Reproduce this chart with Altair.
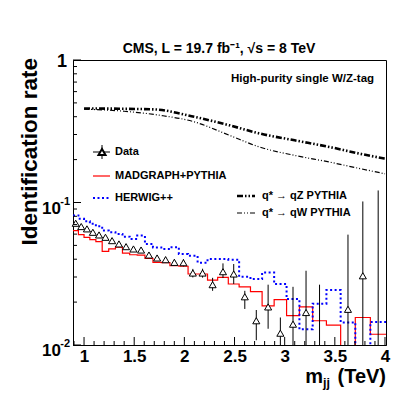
import altair as alt
import pandas as pd

# ---------------- data ----------------
bin_edges = [0.890, 0.944, 1.000, 1.058, 1.118, 1.181, 1.246, 1.313, 1.383, 1.455,
             1.530, 1.607, 1.687, 1.770, 1.856, 1.945, 2.037, 2.132, 2.231, 2.332,
             2.438, 2.546, 2.659, 2.775, 2.895, 3.019, 3.147, 3.279, 3.416, 3.558,
             3.704, 3.854, 4.010]

data_rate = [0.0715, 0.0678, 0.0653, 0.0618, 0.0592, 0.0570, 0.0540, 0.0512, 0.0490, 0.0472,
             0.0464, 0.0428, 0.0408, 0.0397, 0.0380, 0.0378, 0.0320, 0.0320, 0.0265, 0.0327,
             0.0315, 0.0218, 0.0148, 0.0185, 0.0121, 0.0140, 0.0169, None, None, 0.0178,
             0.0306, None]
data_err_low = [0.0700, 0.0663, 0.0638, 0.0603, 0.0577, 0.0555, 0.0525, 0.0497, 0.0474, 0.0456,
                0.0447, 0.0410, 0.0390, 0.0378, 0.0360, 0.0356, 0.0298, 0.0297, 0.0240, 0.0295,
                0.0268, 0.0179, 0.0108, 0.0130, 0.0, 0.0, 0.0, 0.0, None, 0.0,
                0.0, 0.0]
data_err_high = [0.0730, 0.0693, 0.0668, 0.0633, 0.0607, 0.0585, 0.0555, 0.0527, 0.0506, 0.0488,
                 0.0481, 0.0446, 0.0426, 0.0416, 0.0400, 0.0400, 0.0342, 0.0343, 0.0296, 0.0374,
                 0.0370, 0.0240, 0.0176, 0.0265, 0.0156, 0.0256, 0.0332, 0.0265, None, 0.0595,
                 0.1017, 0.1215]

madgraph_rate = [0.0635, 0.0595, 0.0570, 0.0549, 0.0531, 0.0454, 0.0472, 0.0486, 0.0442, 0.0430,
                 0.0427, 0.0405, 0.0380, 0.0378, 0.0360, 0.0357, 0.0315, 0.0315, 0.0285, 0.0298,
                 0.0268, 0.0256, 0.0237, 0.0188, 0.0208, 0.0161, 0.0185, 0.0148, 0.0138, 0.0,
                 0.0156, 0.0119]
herwig_rate = [0.0810, 0.0768, 0.0738, 0.0708, 0.0681, 0.0635, 0.0618, 0.0602, 0.0576, 0.0555,
               0.0586, 0.0512, 0.0484, 0.0472, 0.0486, 0.0435, 0.0423, 0.0378, 0.0401, 0.0401,
               0.0397, 0.0301, 0.0290, 0.0323, 0.0268, 0.0210, 0.0129, 0.0195, 0.0243, 0.0144,
               0.0, 0.0145]

qz_mass = [1.0, 1.35, 1.7, 2.1, 2.45, 2.75, 3.1, 3.45, 3.75, 4.0]
qz_rate = [0.457, 0.455, 0.450, 0.399, 0.348, 0.305, 0.273, 0.245, 0.220, 0.203]
qw_mass = [1.0, 1.4, 1.75, 2.1, 2.45, 2.75, 3.1, 3.45, 3.75, 4.0]
qw_rate = [0.452, 0.437, 0.410, 0.368, 0.296, 0.245, 0.214, 0.192, 0.173, 0.159]

x_major_ticks = [1.0, 1.5, 2.0, 2.5, 3.0, 3.5, 4.0]
x_minor_ticks = [0.9, 1.1, 1.2, 1.3, 1.4, 1.6, 1.7, 1.8, 1.9, 2.1, 2.2, 2.3, 2.4, 2.6, 2.7,
                 2.8, 2.9, 3.1, 3.2, 3.3, 3.4, 3.6, 3.7, 3.8, 3.9]
y_major_ticks = [0.01, 0.1, 1.0]
y_minor_ticks = [0.02, 0.03, 0.04, 0.05, 0.06, 0.07, 0.08, 0.09,
                 0.2, 0.3, 0.4, 0.5, 0.6, 0.7, 0.8, 0.9]

title_text = "CMS, L = 19.7 fb\u207b\u00b9, \u221as = 8 TeV"
tag_text = "High-purity single W/Z-tag"
legend_labels = ["Data", "MADGRAPH+PYTHIA", "HERWIG++",
                 "q* \u2192 qZ PYTHIA", "q* \u2192 qW PYTHIA"]
y_title = "Identification rate"

# ---------------- tables ----------------
FLOOR = 1e-4
W, H = 313, 285
FONT = "Liberation Sans"

centers = [(bin_edges[i] + bin_edges[i + 1]) / 2 for i in range(len(data_rate))]

pts = pd.DataFrame({"m": centers, "rate": data_rate}).dropna()
errs = pd.DataFrame({"m": centers, "lo": data_err_low, "hi": data_err_high}).dropna()
errs["lo"] = errs["lo"].clip(lower=FLOOR)


def step_table(vals):
    v = [max(x, FLOOR) for x in vals]
    return pd.DataFrame({"m": bin_edges, "rate": v + [v[-1]]})


mad = step_table(madgraph_rate)
her = step_table(herwig_rate)
qz = pd.DataFrame({"m": qz_mass, "rate": qz_rate})
qw = pd.DataFrame({"m": qw_mass, "rate": qw_rate})

xs = alt.Scale(domain=[bin_edges[0], bin_edges[-1]], nice=False, zero=False)
ys = alt.Scale(type="log", domain=[0.01, 1.0], nice=False)

X = alt.X("m:Q", scale=xs,
          axis=alt.Axis(values=x_major_ticks, labelExpr="datum.value + ''", ticks=False,
                        grid=False, title=None, labelFont=FONT, labelFontWeight="bold",
                        labelFontSize=17, labelColor="black", labelPadding=3,
                        domainColor="black"))
Y = alt.Y("rate:Q", scale=ys,
          axis=alt.Axis(values=y_major_ticks, labels=False, ticks=False, grid=False,
                        title=None, domainColor="black"))

base_x = alt.X("m:Q", scale=xs)
base_y = alt.Y("rate:Q", scale=ys)

# histograms
mad_line = alt.Chart(mad).mark_line(interpolate="step-after", color="#ff0000",
                                    strokeWidth=1.2, clip=True).encode(x=X, y=Y)
her_line = alt.Chart(her).mark_line(interpolate="step-after", color="#0000ff",
                                    strokeWidth=2, strokeDash=[2, 2.5], clip=True).encode(x=base_x, y=base_y)

# signal curves
qz_line = alt.Chart(qz).mark_line(interpolate="monotone", color="black", strokeWidth=2.6,
                                  strokeDash=[6, 2, 1.5, 2, 1.5, 2]).encode(x=base_x, y=base_y)
qw_line = alt.Chart(qw).mark_line(interpolate="monotone", color="black", strokeWidth=1.2,
                                  strokeDash=[5, 2, 1, 2, 1, 2]).encode(x=base_x, y=base_y)

# data
err_rules = alt.Chart(errs).mark_rule(color="black", strokeWidth=1, clip=True).encode(
    x=base_x, y=alt.Y("lo:Q", scale=ys), y2="hi:Q")
markers = alt.Chart(pts).mark_point(shape="triangle-up", filled=True, fill="white",
                                    stroke="black", strokeWidth=1, size=50, opacity=1).encode(
    x=base_x, y=base_y)

# inside ticks
ytk_major = alt.Chart(pd.DataFrame({"rate": y_major_ticks})).mark_rule(color="black").encode(
    y=base_y, x=alt.value(0), x2=alt.value(8))
ytk_minor = alt.Chart(pd.DataFrame({"rate": y_minor_ticks})).mark_rule(color="black").encode(
    y=base_y, x=alt.value(0), x2=alt.value(4))
xtk_major = alt.Chart(pd.DataFrame({"m": x_major_ticks})).mark_rule(color="black").encode(
    x=base_x, y=alt.value(H), y2=alt.value(H - 8))
xtk_minor = alt.Chart(pd.DataFrame({"m": x_minor_ticks})).mark_rule(color="black").encode(
    x=base_x, y=alt.value(H), y2=alt.value(H - 4))

# y tick labels (10 with superscript exponent)
ylab_one = alt.Chart(pd.DataFrame({"rate": [1.0], "t": ["1"]})).mark_text(
    font=FONT, fontWeight="bold", fontSize=18, align="right", baseline="middle", dy=2).encode(
    y=base_y, x=alt.value(-6), text="t:N")
ylab_ten = alt.Chart(pd.DataFrame({"rate": [0.1, 0.01], "t": ["10", "10"]})).mark_text(
    font=FONT, fontWeight="bold", fontSize=17, align="right", baseline="middle", dy=6).encode(
    y=base_y, x=alt.value(-12), text="t:N")
ylab_exp = alt.Chart(pd.DataFrame({"rate": [0.1, 0.01], "t": ["-1", "-2"]})).mark_text(
    font=FONT, fontWeight="bold", fontSize=11, align="right", baseline="middle", dy=-1).encode(
    y=base_y, x=alt.value(-3), text="t:N")


def txt(s, x, y, size, align="left", baseline="alphabetic", angle=0):
    return alt.Chart(pd.DataFrame({"t": [s]})).mark_text(
        font=FONT, fontWeight="bold", fontSize=size, align=align, baseline=baseline,
        angle=angle, color="black").encode(x=alt.value(x), y=alt.value(y), text="t:N")


title = txt(title_text, 146, -7, 14, align="center")
tag = txt(tag_text, 158, 22, 11.5)
ylabel = txt(y_title, -43, -2, 22.5, align="right", baseline="middle", angle=270)
xl_unit = txt("(TeV)", 313, 323, 20, align="right")
xl_sub = txt("jj", 257, 327, 12.5, align="right")
xl_m = txt("m", 250, 323, 20, align="right")

# legend
leg_text = [txt(legend_labels[0], 42, 92, 11, baseline="middle"),
            txt(legend_labels[1], 42, 116, 11, baseline="middle"),
            txt(legend_labels[2], 42, 138, 11, baseline="middle"),
            txt(legend_labels[3], 189, 136, 11, baseline="middle"),
            txt(legend_labels[4], 189, 153, 11, baseline="middle")]
one = pd.DataFrame({"a": [0]})
leg_marks = [
    alt.Chart(one).mark_rule(color="black").encode(x=alt.value(20), x2=alt.value(37), y=alt.value(92)),
    alt.Chart(one).mark_rule(color="black").encode(x=alt.value(29), y=alt.value(85), y2=alt.value(99)),
    alt.Chart(one).mark_point(shape="triangle-up", filled=True, fill="white", stroke="black",
                              size=50, opacity=1).encode(x=alt.value(29), y=alt.value(92)),
    alt.Chart(one).mark_rule(color="#ff0000", strokeWidth=1.2).encode(
        x=alt.value(20), x2=alt.value(37), y=alt.value(116)),
    alt.Chart(one).mark_rule(color="#0000ff", strokeWidth=2, strokeDash=[2, 2.5]).encode(
        x=alt.value(20), x2=alt.value(37), y=alt.value(138)),
    alt.Chart(one).mark_rule(color="black", strokeWidth=2.6, strokeDash=[6, 2, 1.5, 2, 1.5, 2]).encode(
        x=alt.value(164), x2=alt.value(182), y=alt.value(136)),
    alt.Chart(one).mark_rule(color="black", strokeWidth=1.2, strokeDash=[5, 2, 1, 2, 1, 2]).encode(
        x=alt.value(164), x2=alt.value(182), y=alt.value(153)),
]

chart = alt.layer(
    mad_line, her_line, qz_line, qw_line, err_rules, markers,
    ytk_major, ytk_minor, xtk_major, xtk_minor,
    ylab_one, ylab_ten, ylab_exp,
    title, tag, ylabel, xl_unit, xl_sub, xl_m,
    *leg_marks, *leg_text,
).properties(
    width=W, height=H,
    padding={"left": 65, "top": 52, "right": 13, "bottom": 46},
    autosize=alt.AutoSizeParams(type="none"),
    background="white",
).configure_view(stroke="black", strokeWidth=1)

chart.save("out.html", embed_options={"renderer": "svg", "actions": False})
